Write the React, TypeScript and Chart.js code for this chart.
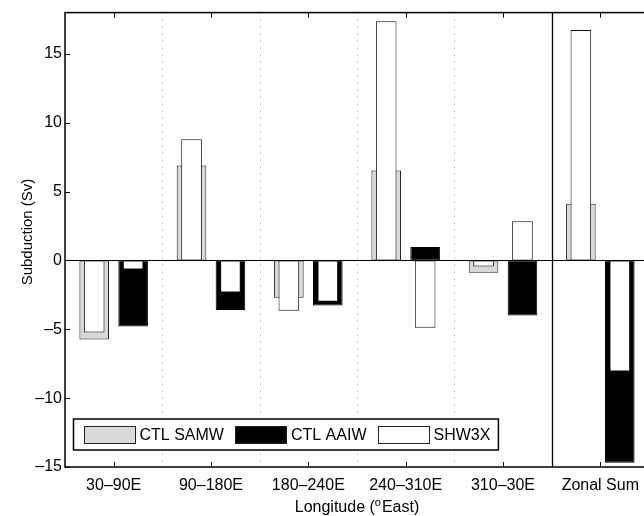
import React, { useEffect, useRef } from 'react';
import { Chart, registerables } from 'chart.js';

Chart.register(...registerables);

// ---------- data ----------
const categories = ['30–90E', '90–180E', '180–240E', '240–310E', '310–30E', 'Zonal Sum'];
const ctlSAMW = [-5.74, 6.89, -2.71, 6.53, -0.89, 4.11];
const ctlAAIW = [-4.79, -3.59, -3.28, 0.98, -4.0, -14.69];
const shw3xSAMW = [-5.24, 8.8, -3.66, 17.37, -0.43, 16.73];
const shw3xAAIW = [-0.65, -2.32, -2.99, -4.88, 2.84, -8.07];
const yTicks = [-15, -10, -5, 0, 5, 10, 15];
const yMin = -15;
const yMax = 18;
const legendLabels = ['CTL SAMW', 'CTL AAIW', 'SHW3X'];
const yTitle = 'Subduction (Sv)';

const FONT = '"Liberation Sans", Arial, Helvetica, sans-serif';
const GRAY = '#d9d9d9';

const matlabPlugin = {
  id: 'matlabDecor',
  beforeDatasetsDraw(chart: any) {
    const { ctx, chartArea: a, scales } = chart;
    const x = scales.x;
    ctx.save();
    ctx.strokeStyle = '#9a9a9a';
    ctx.lineWidth = 1;
    ctx.setLineDash([1, 6]);
    for (let i = 0; i < categories.length - 2; i++) {
      const px = Math.round((x.getPixelForValue(i) + x.getPixelForValue(i + 1)) / 2) + 0.5;
      ctx.beginPath();
      ctx.moveTo(px, a.top);
      ctx.lineTo(px, a.bottom);
      ctx.stroke();
    }
    ctx.restore();
  },
  afterDatasetsDraw(chart: any) {
    const { ctx, chartArea: a, scales } = chart;
    const x = scales.x;
    const y = scales.y;
    ctx.save();
    ctx.strokeStyle = '#000';
    // zero baseline
    const y0 = Math.round(y.getPixelForValue(0)) + 0.5;
    ctx.lineWidth = 1;
    ctx.beginPath();
    ctx.moveTo(a.left, y0);
    ctx.lineTo(a.right, y0);
    ctx.stroke();
    // separator before the zonal sum
    const n = categories.length;
    const sx = Math.round((x.getPixelForValue(n - 2) + x.getPixelForValue(n - 1)) / 2) + 0.5;
    ctx.lineWidth = 1.3;
    ctx.beginPath();
    ctx.moveTo(sx, a.top);
    ctx.lineTo(sx, a.bottom);
    ctx.stroke();
    // ticks (inward)
    const tl = 5;
    ctx.lineWidth = 1;
    for (let i = 0; i < n; i++) {
      const px = Math.round(x.getPixelForValue(i)) + 0.5;
      ctx.beginPath();
      ctx.moveTo(px, a.bottom);
      ctx.lineTo(px, a.bottom - tl);
      ctx.moveTo(px, a.top);
      ctx.lineTo(px, a.top + tl);
      ctx.stroke();
    }
    for (const v of yTicks) {
      const py = Math.round(y.getPixelForValue(v)) + 0.5;
      ctx.beginPath();
      ctx.moveTo(a.left, py);
      ctx.lineTo(a.left + tl, py);
      ctx.moveTo(a.right, py);
      ctx.lineTo(a.right - tl, py);
      ctx.stroke();
    }
    // frame
    ctx.lineWidth = 1.5;
    ctx.strokeRect(a.left, a.top, a.right - a.left, a.bottom - a.top);
    ctx.restore();
  },
  afterDraw(chart: any) {
    const { ctx, chartArea: a } = chart;
    ctx.save();
    // legend box
    const ds = chart.data.datasets;
    ctx.font = `16px ${FONT}`;
    const swW = 51;
    const swH = 17;
    const boxL = a.left + 8.5;
    const boxB = a.bottom - 17;
    const boxH = 31;
    const boxT = boxB - boxH;
    let cx = boxL + 10;
    const items: any[] = [];
    legendLabels.forEach((lab, i) => {
      const w = ctx.measureText(lab).width;
      items.push({ x: cx, lab, fill: ds[i].backgroundColor, stroke: ds[i].borderColor });
      cx += swW + 5 + w + 11;
    });
    const boxR = cx - 11 + 8;
    ctx.fillStyle = '#fff';
    ctx.fillRect(boxL, boxT, boxR - boxL, boxH);
    ctx.strokeStyle = '#000';
    ctx.lineWidth = 1.5;
    ctx.strokeRect(boxL, boxT, boxR - boxL, boxH);
    ctx.lineWidth = 1;
    ctx.textBaseline = 'middle';
    ctx.textAlign = 'left';
    const midY = boxT + boxH / 2;
    items.forEach((it) => {
      const sy = Math.round(midY - swH / 2) + 0.5;
      const sxx = Math.round(it.x) + 0.5;
      ctx.fillStyle = it.fill;
      ctx.fillRect(sxx, sy, swW, swH);
      ctx.strokeStyle = '#222';
      ctx.strokeRect(sxx, sy, swW, swH);
      ctx.fillStyle = '#000';
      ctx.fillText(it.lab, it.x + swW + 5, midY + 1);
    });
    // x title with superscript
    const cxT = (a.left + a.right) / 2;
    const p1 = 'Longitude (';
    const sup = 'o';
    const p2 = 'East)';
    ctx.font = `16px ${FONT}`;
    const w1 = ctx.measureText(p1).width;
    const w3 = ctx.measureText(p2).width;
    ctx.font = `11px ${FONT}`;
    const w2 = ctx.measureText(sup).width + 1;
    const total = w1 + w2 + w3;
    let tx = cxT - total / 2;
    const base = 512;
    ctx.textBaseline = 'alphabetic';
    ctx.fillStyle = '#000';
    ctx.font = `16px ${FONT}`;
    ctx.fillText(p1, tx, base);
    tx += w1;
    ctx.font = `11px ${FONT}`;
    ctx.fillText(sup, tx, base - 6);
    tx += w2;
    ctx.font = `16px ${FONT}`;
    ctx.fillText(p2, tx, base);
    // y title
    ctx.translate(28, 232);
    ctx.rotate(-Math.PI / 2);
    ctx.textAlign = 'center';
    ctx.textBaseline = 'middle';
    ctx.font = `15px ${FONT}`;
    ctx.fillText(yTitle, 0, 0);
    ctx.restore();
  },
};

export default function App() {
  const ref = useRef<HTMLCanvasElement | null>(null);
  useEffect(() => {
    document.body.style.margin = '0';
    document.body.style.overflow = 'hidden';
    const canvas = ref.current;
    if (!canvas) return;
    const common = { borderWidth: 1, borderSkipped: false as const, categoryPercentage: 0.8 };
    const chart = new Chart(canvas, {
      type: 'bar',
      data: {
        labels: categories,
        datasets: [
          { ...common, label: 'CTL SAMW', data: ctlSAMW, backgroundColor: GRAY, borderColor: '#222', barPercentage: 0.76, stack: 'samw', order: 1 },
          { ...common, label: 'CTL AAIW', data: ctlAAIW, backgroundColor: '#000', borderColor: '#000', barPercentage: 0.76, stack: 'aaiw', order: 1 },
          { ...common, label: 'SHW3X', data: shw3xSAMW, backgroundColor: '#fff', borderColor: '#111', barPercentage: 0.53, stack: 'samw', order: 0 },
          { ...common, label: 'SHW3X', data: shw3xAAIW, backgroundColor: '#fff', borderColor: '#111', barPercentage: 0.53, stack: 'aaiw', order: 0 },
        ],
      },
      options: {
        animation: false,
        responsive: true,
        maintainAspectRatio: false,
        devicePixelRatio: 1,
        layout: { padding: { left: 0, top: 9, right: 11, bottom: 0 } },
        plugins: { legend: { display: false }, tooltip: { enabled: false } },
        scales: {
          x: {
            stacked: true,
            grid: { display: false, drawTicks: false },
            border: { display: false },
            ticks: { color: '#000', font: { family: FONT, size: 16 }, padding: 9, maxRotation: 0, autoSkip: false },
            afterFit: (s: any) => { s.height = 49; },
          },
          y: {
            stacked: false,
            min: yMin,
            max: yMax,
            grid: { display: false, drawTicks: false },
            border: { display: false },
            afterBuildTicks: (s: any) => { s.ticks = yTicks.map((v) => ({ value: v })); },
            ticks: {
              color: '#000',
              font: { family: FONT, size: 16 },
              padding: 3,
              callback: (v: any) => (Number(v) < 0 ? '–' + Math.abs(Number(v)) : String(v)),
            },
            afterFit: (s: any) => { s.width = 65; },
          },
        },
      },
      plugins: [matlabPlugin],
    });
    return () => chart.destroy();
  }, []);
  return (
    <div style={{ position: 'fixed', left: 0, top: 0, width: 644, height: 516, overflow: 'hidden', background: '#fff' }}>
      <div style={{ position: 'relative', width: 660, height: 516 }}>
        <canvas ref={ref} />
      </div>
    </div>
  );
}
